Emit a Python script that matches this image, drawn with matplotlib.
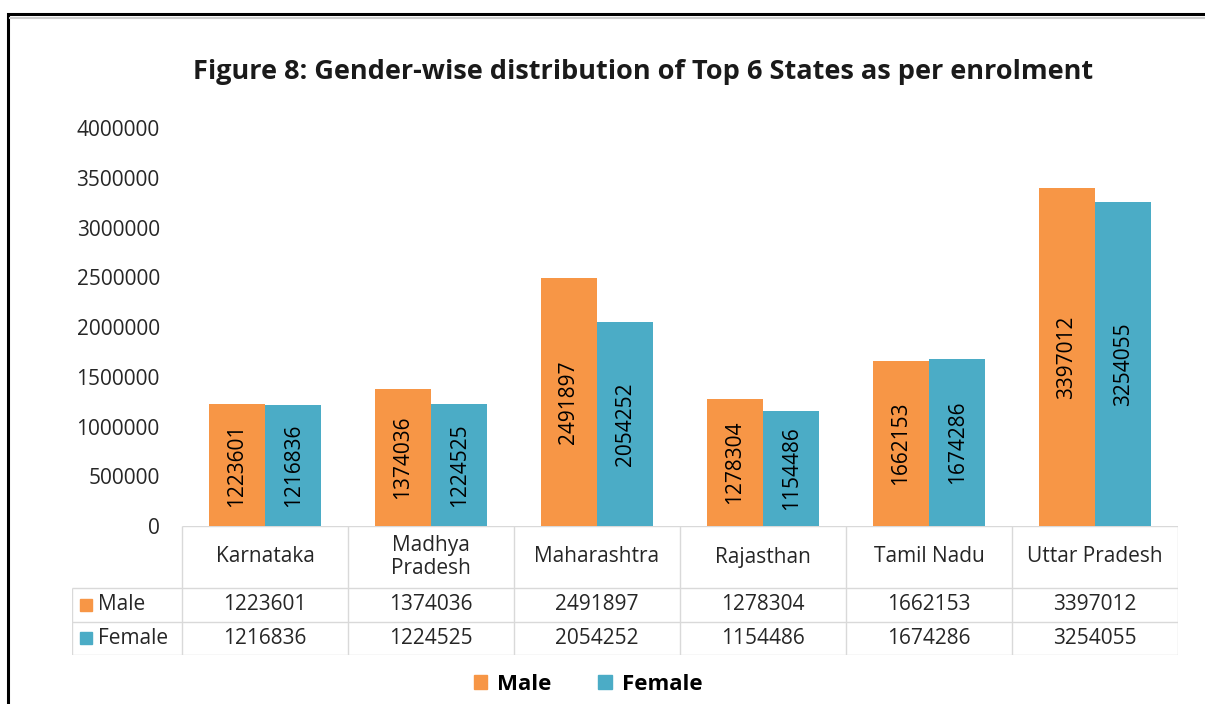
import matplotlib.pyplot as plt
import numpy as np
from matplotlib.patches import Patch, Rectangle

plt.rcParams['font.family'] = ['Open Sans', 'DejaVu Sans']

states = ['Karnataka', 'Madhya\nPradesh', 'Maharashtra', 'Rajasthan', 'Tamil Nadu', 'Uttar Pradesh']
male = [1223601, 1374036, 2491897, 1278304, 1662153, 3397012]
female = [1216836, 1224525, 2054252, 1154486, 1674286, 3254055]
series = ['Male', 'Female']
yticks = [0, 500000, 1000000, 1500000, 2000000, 2500000, 3000000, 3500000, 4000000]

c_male = '#F79646'
c_female = '#4BACC6'
colors = [c_male, c_female]
txt = '#262626'
grid = '#d9d9d9'
fs = 15

fig = plt.figure(figsize=(12.05, 7.04), dpi=100)
ax = fig.add_axes([182 / 1205, 1 - 526 / 704, 996 / 1205, 398 / 704])

x = np.arange(len(states))
w = 0.34
b1 = ax.bar(x - w / 2, male, w, color=c_male)
b2 = ax.bar(x + w / 2, female, w, color=c_female)
for b in (b1, b2):
    ax.bar_label(b, fmt='%d', label_type='center', rotation=90, fontsize=fs, color='black')

ax.set_xlim(-0.5, len(states) - 0.5)
ax.set_ylim(0, 4000000)
ax.set_yticks(yticks)
ax.set_yticklabels([str(v) for v in yticks], fontsize=fs, color=txt)
ax.tick_params(axis='y', length=0, pad=16)
ax.set_xticks([])
for s in ax.spines.values():
    s.set_visible(False)

# data table below the bars, in its own axes (x in category units, y in pixels-ish)
tax = fig.add_axes([72 / 1205, 1 - 655 / 704, 1106 / 1205, 129 / 704])
xl = -0.5 - 110 / 166
tax.set_xlim(xl, len(states) - 0.5)
tax.set_ylim(129, 0)
tax.axis('off')
row_y = [0, 62, 95.5, 129]
tax.hlines(0, -0.5, len(states) - 0.5, color=grid, lw=1)
tax.hlines(row_y[1:], xl, len(states) - 0.5, color=grid, lw=1)
tax.vlines(np.arange(len(states) + 1) - 0.5, 0, 129, color=grid, lw=1)
tax.vlines(xl, 62, 129, color=grid, lw=1)
for i, st in enumerate(states):
    tax.text(i, 31, st, ha='center', va='center', fontsize=fs, color=txt, linespacing=1.1)
for r, vals in enumerate([male, female]):
    yc = (row_y[r + 1] + row_y[r + 2]) / 2
    for i, v in enumerate(vals):
        tax.text(i, yc, str(v), ha='center', va='center', fontsize=fs, color=txt)
    tax.plot([xl + 14 / 166], [yc], 's', color=colors[r], ms=8.5)
    tax.text(xl + 26 / 166, yc, series[r], ha='left', va='center', fontsize=fs, color=txt)

fig.text(0.5336, 1 - 72 / 704, 'Figure 8: Gender-wise distribution of Top 6 States as per enrolment',
         ha='center', va='center', fontsize=19.5, fontweight='bold', color='#1a1a1a')

handles = [Patch(color=c, label=s) for c, s in zip(colors, series)]
fig.legend(handles=handles, loc='center', bbox_to_anchor=(0.488, 1 - 684 / 704), ncol=2,
           frameon=False, handlelength=0.6, handleheight=0.6, handletextpad=0.45,
           columnspacing=2.1, prop={'weight': 'bold', 'size': 16})

# outer frame of the original screenshot
fig.patches.append(Rectangle((8 / 1205, -0.2), 1.2, 1.2 - 14 / 704, transform=fig.transFigure,
                             fill=False, edgecolor='black', lw=2.2))
fig.lines.append(plt.Line2D([10 / 1205, 1], [1 - 18 / 704] * 2, transform=fig.transFigure,
                            color='#cccccc', lw=1.5))

fig.savefig('out.png', dpi=100)
